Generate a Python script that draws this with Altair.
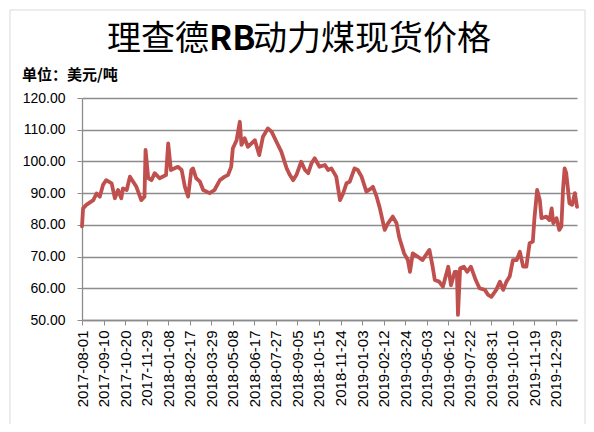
import altair as alt
import pandas as pd

dates = [
    "2017-08-01", "2017-08-03", "2017-08-09", "2017-08-22", "2017-08-28", "2017-09-03",
    "2017-09-09", "2017-09-15", "2017-09-25", "2017-10-01", "2017-10-07", "2017-10-13",
    "2017-10-16", "2017-10-23", "2017-10-29", "2017-11-04", "2017-11-10", "2017-11-19",
    "2017-11-25", "2017-11-27", "2017-12-02", "2017-12-08", "2017-12-14", "2017-12-23",
    "2018-01-04", "2018-01-08", "2018-01-13", "2018-01-26", "2018-02-02", "2018-02-08",
    "2018-02-14", "2018-02-20", "2018-02-23", "2018-03-01", "2018-03-08", "2018-03-14",
    "2018-03-26", "2018-04-04", "2018-04-14", "2018-04-23", "2018-04-29", "2018-05-05",
    "2018-05-08", "2018-05-15", "2018-05-21", "2018-05-24", "2018-05-30", "2018-06-05",
    "2018-06-18", "2018-06-26", "2018-07-03", "2018-07-12", "2018-07-19", "2018-07-28",
    "2018-08-06", "2018-08-16", "2018-08-22", "2018-08-28", "2018-09-03", "2018-09-12",
    "2018-09-19", "2018-09-25", "2018-10-01", "2018-10-07", "2018-10-16", "2018-10-26",
    "2018-11-01", "2018-11-07", "2018-11-16", "2018-11-23", "2018-11-29", "2018-12-05",
    "2018-12-11", "2018-12-20", "2018-12-26", "2019-01-02", "2019-01-11", "2019-01-20",
    "2019-01-23", "2019-01-30", "2019-02-05", "2019-02-14", "2019-02-20", "2019-03-01",
    "2019-03-08", "2019-03-13", "2019-03-22", "2019-03-29", "2019-04-02", "2019-04-07",
    "2019-04-16", "2019-04-25", "2019-05-08", "2019-05-14", "2019-05-18", "2019-05-26",
    "2019-06-02", "2019-06-12", "2019-06-17", "2019-06-24", "2019-06-28", "2019-06-30",
    "2019-07-04", "2019-07-11", "2019-07-17", "2019-07-24", "2019-08-02", "2019-08-09",
    "2019-08-19", "2019-08-25", "2019-08-31", "2019-09-09", "2019-09-16", "2019-09-22",
    "2019-09-28", "2019-10-04", "2019-10-10", "2019-10-17", "2019-10-23", "2019-10-29",
    "2019-11-04", "2019-11-10", "2019-11-16", "2019-11-19", "2019-11-24", "2019-11-29",
    "2019-12-02", "2019-12-11", "2019-12-17", "2019-12-21", "2019-12-24", "2019-12-30",
    "2020-01-04", "2020-01-08", "2020-01-11", "2020-01-14", "2020-01-17", "2020-01-23",
    "2020-01-28", "2020-02-02", "2020-02-06",
]
prices = [
    79.5, 85.2, 86.3, 87.8, 89.9, 88.9,
    92.6, 94.1, 93.1, 88.4, 91.0, 88.4,
    91.5, 91.0, 95.2, 93.6, 92.0, 87.8,
    88.9, 103.6, 94.7, 94.1, 96.3, 94.7,
    95.7, 105.7, 97.3, 98.3, 97.3, 92.0,
    88.9, 97.3, 97.8, 94.7, 93.6, 91.0,
    90.0, 91.0, 94.1, 95.2, 95.7, 98.3,
    104.1, 106.7, 112.5, 105.2, 107.3, 104.6,
    106.7, 102.0, 107.8, 110.4, 109.4, 106.2,
    103.1, 97.8, 95.7, 94.1, 95.7, 99.9,
    97.3, 96.3, 99.4, 101.0, 98.3, 98.9,
    97.3, 97.8, 95.2, 87.8, 90.0, 93.1,
    93.6, 97.8, 97.3, 95.2, 90.5, 91.5,
    92.0, 88.9, 85.2, 78.4, 80.5, 82.6,
    80.5, 76.0, 71.0, 68.9, 65.2, 71.0,
    70.0, 68.9, 72.1, 66.8, 62.6, 62.1,
    60.5, 66.8, 61.0, 65.2, 65.2, 51.6,
    66.3, 66.8, 65.2, 66.8, 62.6, 60.0,
    59.5, 57.9, 57.3, 59.5, 62.1, 59.5,
    62.1, 63.7, 68.9, 68.9, 71.5, 66.8,
    66.8, 74.2, 74.7, 82.1, 91.0, 87.8,
    82.1, 82.6, 81.5, 85.2, 80.5, 82.1,
    78.4, 79.5, 91.0, 97.8, 96.3, 86.8,
    86.3, 90.0, 85.7,
]
tick_labels = [
    "2017-08-01", "2017-09-10", "2017-10-20", "2017-11-29", "2018-01-08", "2018-02-17",
    "2018-03-29", "2018-05-08", "2018-06-17", "2018-07-27", "2018-09-05", "2018-10-15",
    "2018-11-24", "2019-01-03", "2019-02-12", "2019-03-24", "2019-05-03", "2019-06-12",
    "2019-07-22", "2019-08-31", "2019-10-10", "2019-11-19", "2019-12-29",
]
y_ticks = [50, 60, 70, 80, 90, 100, 110, 120]

title_parts = ["理查德", "RB", "动力煤现货价格"]
unit_text = "单位：美元/吨"


def ms(s):
    return int(pd.Timestamp(s).value // 10**6)


df = pd.DataFrame({"date": [ms(d) for d in dates], "price": prices})
x_domain = [ms("2017-08-01"), ms("2020-02-06")]
tick_vals = [ms(t) for t in tick_labels]

GRID = "#8c8c8c"
CJK = "Noto Sans CJK SC"

line = alt.Chart(df).mark_line(
    color="#C0504D", strokeWidth=3.8, strokeJoin="round", strokeCap="round"
).encode(
    x=alt.X(
        "date:T",
        scale=alt.Scale(type="utc", domain=x_domain),
        axis=alt.Axis(
            values=tick_vals, format="%Y-%m-%d", labelAngle=270, title=None,
            grid=False, tickSize=5, tickColor=GRID, domainColor=GRID,
            domainWidth=1.3, labelFontSize=15, labelColor="#000000",
            labelFont="Liberation Sans", labelPadding=5, labelOverlap=False,
            labelFlush=False,
        ),
    ),
    y=alt.Y(
        "price:Q",
        scale=alt.Scale(domain=[50, 120], nice=False, zero=False),
        axis=alt.Axis(
            values=y_ticks, format=".2f", title=None, grid=True,
            gridColor=GRID, gridWidth=1.3, tickSize=5, tickColor=GRID,
            domainColor=GRID, domainWidth=1.3, labelFontSize=14,
            labelColor="#000000", labelFont="Liberation Sans", labelPadding=12,
        ),
    ),
)

one = pd.DataFrame({"a": [0]})

border = alt.Chart(one).mark_rect(
    fillOpacity=0, stroke="#d9d9d9", strokeWidth=1
).encode(
    x=alt.value(-72), x2=alt.value(503), y=alt.value(-88), y2=alt.value(340)
)

t1 = alt.Chart(one).mark_text(
    text=title_parts[0], font=CJK, fontSize=34, align="right", baseline="middle",
    color="#000000"
).encode(x=alt.value(127), y=alt.value(-58))
t2 = alt.Chart(one).mark_text(
    text=title_parts[1], font=CJK, fontSize=34, fontWeight="bold", align="left",
    baseline="middle", color="#000000"
).encode(x=alt.value(127), y=alt.value(-58))
t3 = alt.Chart(one).mark_text(
    text=title_parts[2], font=CJK, fontSize=34, align="left", baseline="middle",
    color="#000000"
).encode(x=alt.value(171), y=alt.value(-58))

unit = alt.Chart(one).mark_text(
    text=unit_text, font=CJK, fontSize=15, fontWeight="bold", align="left",
    baseline="middle", color="#000000"
).encode(x=alt.value(-60), y=alt.value(-23))

chart = alt.layer(border, line, t1, t2, t3, unit).properties(
    width=495, height=222,
    autosize=alt.AutoSizeParams(type="none"),
    padding={"left": 74, "top": 90, "right": 9, "bottom": 104},
    background="#ffffff",
).configure_view(stroke=None)

chart.save("out.html", embed_options={"renderer": "svg", "actions": False})
